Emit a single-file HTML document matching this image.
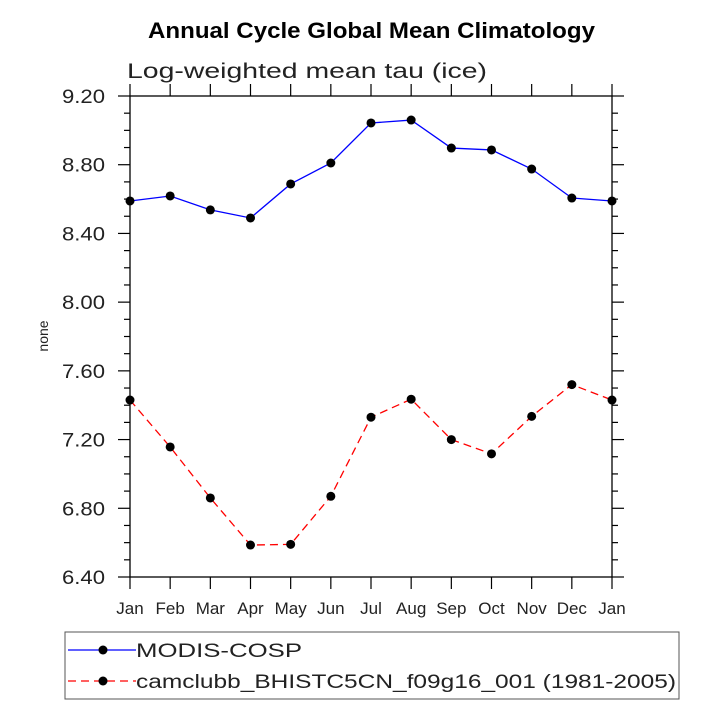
<!DOCTYPE html>
<html><head><meta charset="utf-8"><style>
body{margin:0;background:#fff;}
svg text{font-family:"Liberation Sans","DejaVu Sans",sans-serif;}
</style></head><body>
<svg id="c" width="717" height="717" viewBox="0 0 717 717">
<text x="148" y="38" font-size="22" font-weight="bold" textLength="447" lengthAdjust="spacingAndGlyphs">Annual Cycle Global Mean Climatology</text>
<text x="127" y="78" font-size="21" fill="#222" textLength="360" lengthAdjust="spacingAndGlyphs">Log-weighted mean tau (ice)</text>
<text x="0" y="0" font-size="14" fill="#222" transform="translate(48,336) rotate(-90)" text-anchor="middle">none</text>
<g id="axes"></g><g id="series"></g>
<rect x="65" y="632" width="614" height="67" fill="none" stroke="#555" stroke-width="1"/>
<g>
<line x1="68" y1="650" x2="136" y2="650" stroke="#00f" stroke-width="1.3"/>
<circle cx="103" cy="650" r="4.5" fill="#000"/>
<text x="136" y="657" font-size="19" fill="#222" textLength="166" lengthAdjust="spacingAndGlyphs">MODIS-COSP</text></g>
<g>
<line x1="68" y1="681" x2="136" y2="681" stroke="#f00" stroke-width="1.3" stroke-dasharray="8,5"/>
<circle cx="103" cy="681" r="4.5" fill="#000"/>
<text x="136" y="688" font-size="19" fill="#222" textLength="540" lengthAdjust="spacingAndGlyphs">camclubb_BHISTC5CN_f09g16_001 (1981-2005)</text></g>
</svg>
<script>
const months=["Jan","Feb","Mar","Apr","May","Jun","Jul","Aug","Sep","Oct","Nov","Dec","Jan"];
const yTicks=[6.4,6.8,7.2,7.6,8.0,8.4,8.8,9.2];
const modis=[8.589,8.618,8.537,8.49,8.688,8.81,9.043,9.06,8.897,8.886,8.775,8.606,8.589];
const cam=[7.43,7.157,6.86,6.586,6.59,6.87,7.33,7.435,7.2,7.117,7.335,7.52,7.43];
const NS="http://www.w3.org/2000/svg";
const L=130,R=612,T=96,B=577,ymin=6.4,ymax=9.2;
const xs=i=>L+(R-L)*i/(months.length-1);
const ys=v=>B-(B-T)*(v-ymin)/(ymax-ymin);
function mk(t,a,p){const e=document.createElementNS(NS,t);for(const k in a)e.setAttribute(k,a[k]);p.appendChild(e);return e;}
const ax=document.getElementById('axes');
const fr=mk('rect',{x:L,y:T,width:R-L,height:B-T,fill:'none',stroke:'#000','stroke-width':1.3},ax);


for(let v=ymin;v<=ymax+1e-6;v+=0.1){
 const y=ys(v);const maj=Math.abs((v-ymin)/0.4-Math.round((v-ymin)/0.4))<1e-6;const len=maj?12:6;
 mk('line',{x1:L-len,y1:y,x2:L,y2:y,stroke:'#000','stroke-width':1.2},ax);
 mk('line',{x1:R,y1:y,x2:R+len,y2:y,stroke:'#000','stroke-width':1.2},ax);
}
yTicks.forEach(v=>{const t=mk('text',{x:L-68,y:ys(v)+7,'font-size':19,fill:'#222',textLength:43,lengthAdjust:'spacingAndGlyphs'},ax);t.textContent=v.toFixed(2);

});
months.forEach((m,i)=>{const x=xs(i);
 mk('line',{x1:x,y1:B,x2:x,y2:B+12,stroke:'#000','stroke-width':1.2},ax);
 mk('line',{x1:x,y1:T-12,x2:x,y2:T,stroke:'#000','stroke-width':1.2},ax);
 const t=mk('text',{x:x,y:B+37,'text-anchor':'middle','font-size':17,fill:'#222'},ax);t.textContent=m;
 
 });
const sg=document.getElementById('series');
function series(d,col,dash,name){
 const pl=mk('polyline',{points:d.map((v,i)=>xs(i)+','+ys(v)).join(' '),fill:'none',stroke:col,'stroke-width':1.3,'stroke-dasharray':dash},sg);
 
 
 d.forEach((v,i)=>{const c=mk('circle',{cx:xs(i),cy:ys(v),r:4.5,fill:'#000'},sg);
 
 });
}
series(modis,'#00f','none','modis');
series(cam,'#f00','8,5','cam');
</script>
</body></html>
